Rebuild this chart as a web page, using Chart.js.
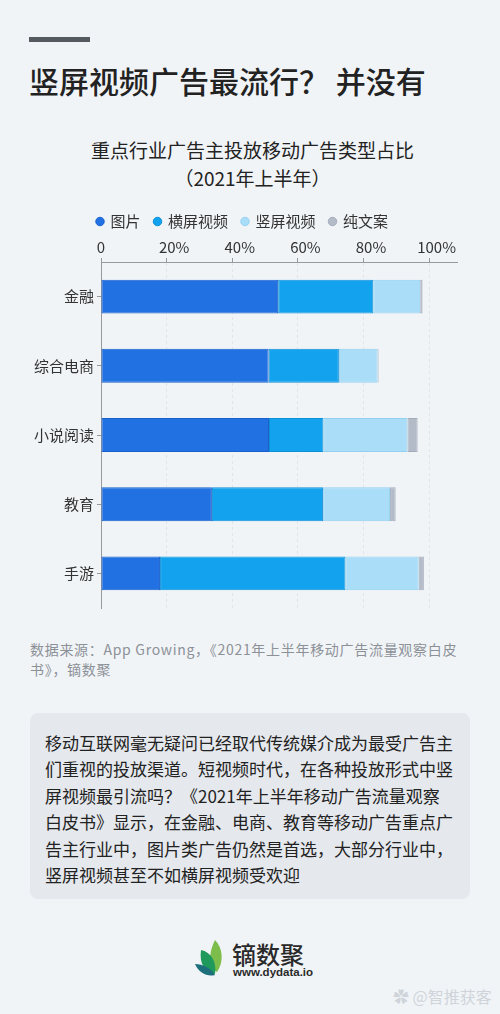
<!DOCTYPE html>
<html>
<head>
<meta charset="utf-8">
<script src="https://cdn.jsdelivr.net/npm/chart.js@4.4.1/dist/chart.umd.min.js"></script>
<style>
  html, body { margin:0; padding:0; }
  body { width:500px; height:1014px; background:#f1f4f7; position:relative; overflow:hidden;
         font-family:"Noto Sans CJK SC","Noto Sans",sans-serif; color:#222; }
  .abs { position:absolute; }
  #bar { left:29px; top:37px; width:61px; height:5px; background:#555a60; }
  #title { left:29px; top:62px; font-size:30px; line-height:36px; font-weight:500; color:#222; white-space:nowrap; }
  #sub { left:0; top:136px; width:505px; text-align:center; font-size:19px; line-height:28px; color:#222; white-space:nowrap; }
  #chartWrap { left:0; top:190px; width:500px; height:430px; }
  #src { left:30px; top:639px; font-size:14px; line-height:20px; letter-spacing:0.7px; color:#8c9197; white-space:nowrap; }
  #box { left:30px; top:713px; width:440px; height:186px; border-radius:8px; background:#e5e8ec; }
  #boxText { left:45px; top:730px; font-size:17px; line-height:26.4px; color:#222; white-space:nowrap; }
  #logoName { left:232px; top:939px; font-size:24px; line-height:30px; font-weight:500; color:#2a2a2a; white-space:nowrap; }
  #logoUrl { left:233px; top:965px; font-size:11.5px; line-height:14px; font-weight:700; color:#2a2a2a; white-space:nowrap; font-family:"Liberation Sans","DejaVu Sans",sans-serif; }
  #wm { left:393px; top:986px; font-size:16px; line-height:20px; color:#cfd4da; white-space:nowrap; }
</style>
</head>
<body>
<div id="bar" class="abs"></div>
<div id="title" class="abs">竖屏视频广告最流行？ 并没有</div>
<div id="sub" class="abs">重点行业广告主投放移动广告类型占比<br>（2021年上半年）</div>
<div id="chartWrap" class="abs"><canvas id="c" width="500" height="430"></canvas></div>
<div id="src" class="abs">数据来源：App Growing，《2021年上半年移动广告流量观察白皮<br>书》，镝数聚</div>
<div id="box" class="abs"></div>
<div id="boxText" class="abs">移动互联网毫无疑问已经取代传统媒介成为最受广告主<br>们重视的投放渠道。短视频时代，在各种投放形式中竖<br>屏视频最引流吗？《2021年上半年移动广告流量观察<br>白皮书》显示，在金融、电商、教育等移动广告重点广<br>告主行业中，图片类广告仍然是首选，大部分行业中，<br>竖屏视频甚至不如横屏视频受欢迎</div>
<svg class="abs" style="left:193px;top:938px" width="32" height="40" viewBox="0 0 32 40">
  <path d="M22 2 C30 10 31 24 24 34 C17 30 14 18 22 2 Z" fill="#7cbd4b"/>
  <path d="M8 12 C18 14 24 24 22 36 C12 34 6 26 8 12 Z" fill="#1f9a5c"/>
  <path d="M2 26 C10 26 18 30 22 37 C14 39 6 35 2 26 Z" fill="#1d6f7c"/>
</svg>
<div id="logoName" class="abs">镝数聚</div>
<div id="logoUrl" class="abs">www.dydata.io</div>
<div id="wm" class="abs">✿ @智推获客</div>

<script>
const categories = ['金融', '综合电商', '小说阅读', '教育', '手游'];
const seriesNames = ['图片', '横屏视频', '竖屏视频', '纯文案'];
const picture    = [54.0, 51.1, 51.2, 33.8, 18.0];
const horizontal = [29.0, 21.4, 16.6, 33.9, 56.5];
const vertical   = [14.3, 11.8, 25.6, 20.4, 22.3];
const textOnly   = [0.7, 0.3, 3.1, 1.7, 1.6];
const tickValues = [0, 20, 40, 60, 80, 100];

const FONT = '"Noto Sans CJK SC","Noto Sans",sans-serif';
const fills = ['#2171e3', '#13a2ee', '#a9ddf8', '#b3bac8'];
const borders = ['#1a60cc', '#0e90d8', '#93d0f0', '#a5adbd'];
const values = [picture, horizontal, vertical, textOnly];

const datasets = seriesNames.map((name, i) => ({
  label: name,
  data: values[i],
  backgroundColor: fills[i],
  borderColor: borders[i],
  borderWidth: 1,
  borderSkipped: false,
  categoryPercentage: 0.98,
  barPercentage: 0.5
}));

new Chart(document.getElementById('c'), {
  type: 'bar',
  data: { labels: categories, datasets },
  options: {
    indexAxis: 'y',
    responsive: false,
    animation: false,
    devicePixelRatio: 1,
    layout: { padding: { left: 28, right: 43, top: 10, bottom: 10 } },
    plugins: {
      legend: {
        position: 'top',
        labels: {
          usePointStyle: true, pointStyle: 'circle',
          boxWidth: 6, boxHeight: 6, padding: 14,
          color: '#333', font: { size: 15, family: FONT }
        }
      },
      title: { display: false },
      tooltip: { enabled: false }
    },
    scales: {
      x: {
        position: 'top', stacked: true, min: 0, max: 108.5,
        afterBuildTicks: (s) => { s.ticks = tickValues.map(v => ({ value: v })); },
        afterFit: (s) => { s.height = 23; },
        ticks: {
          includeBounds: false, padding: 2, color: '#333',
          font: { size: 15, family: FONT },
          callback: (v) => v === 0 ? '0' : '\u2002\u2002' + v + '%'
        },
        grid: { color: '#e1e5ea', tickColor: '#999', tickLength: 4, drawTicks: true },
        border: { display: true, color: '#999', width: 1, dash: [3, 3] }
      },
      y: {
        stacked: true,
        afterFit: (s) => { s.width = 73; },
        ticks: { color: '#333', padding: 3, font: { size: 15, family: FONT } },
        grid: { drawOnChartArea: false, offset: false, tickColor: '#999', tickLength: 4 },
        border: { display: true, color: '#999', width: 1 }
      }
    }
  }
});
</script>
</body>
</html>
